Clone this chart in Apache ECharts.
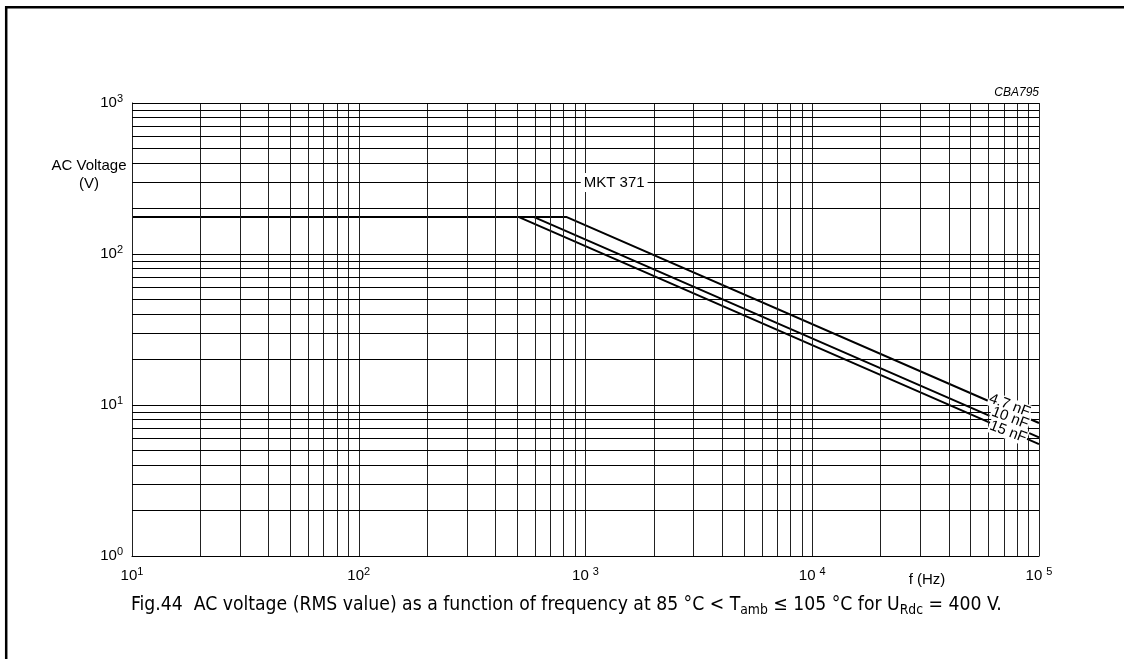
<!DOCTYPE html>
<html><head><meta charset="utf-8">
<script src="https://cdn.jsdelivr.net/npm/echarts@6/dist/echarts.min.js"></script>
<style>html,body{margin:0;padding:0;background:#fff}#c{width:1124px;height:659px}</style>
</head><body><div id="c"></div>
<script>
// ---- data ----
const seriesNames = ['4.7 nF', '10 nF', '15 nF'];
const freq_4_7nF = [10, 822, 100000];
const volt_4_7nF = [176, 176, 7.6];
const freq_10nF = [10, 590, 100000];
const volt_10nF = [176, 176, 6.1];
const freq_15nF = [10, 506, 100000];
const volt_15nF = [176, 176, 5.5];
const xDecades = [10, 100, 1000, 10000];
const yDecades = [1, 10, 100];
const gridMultipliers = [1, 2, 3, 4, 5, 6, 7, 8, 9];
const xMax = 100000, yMax = 1000;
const chartTag = 'MKT 371';
const drawingCode = 'CBA795';
const yAxisTitle = 'AC Voltage\n(V)';
const xAxisTitle = 'f (Hz)';
const captionParts = ['Fig.44  AC voltage (RMS value) as a function of frequency at 85 °C < T', 'amb', ' ≤ 105 °C for U', 'Rdc', ' = 400 V.'];

const FONT = '"Liberation Sans", Arial, sans-serif';
const CAPTION_FONT = '"Liberation Sans Narrow", "DejaVu Sans Condensed", "Liberation Sans", sans-serif';
const zip = (a, b) => a.map((v, i) => [v, b[i]]);

const vLines = [];
xDecades.forEach(d => gridMultipliers.forEach(m => vLines.push(d * m)));
vLines.push(xMax);
const hLines = [];
yDecades.forEach(d => gridMultipliers.forEach(m => hLines.push(d * m)));
hLines.push(yMax);

function expLabel(v, spaced) {
  const e = Math.round(Math.log10(v));
  return '{b|10}{' + (spaced && e >= 3 ? 's2' : 's') + '|' + e + '}';
}
const labelRich = {
  b: { fontSize: 15, lineHeight: 20, fontFamily: FONT, color: '#000' },
  s: { fontSize: 11, lineHeight: 10, verticalAlign: 'top', fontFamily: FONT, color: '#000' },
  s2: { fontSize: 11, lineHeight: 10, verticalAlign: 'top', fontFamily: FONT, color: '#000', padding: [0, 0, 0, 4] }
};

const chart = echarts.init(document.getElementById('c'));
const curveStyle = { color: '#000', width: 2 };
const option = {
  animation: false,
  backgroundColor: '#fff',
  grid: { left: 132, top: 103, width: 907, height: 453 },
  xAxis: {
    type: 'log', logBase: 10, min: 10, max: xMax, splitNumber: 4,
    axisLine: { show: true, lineStyle: { color: '#000', width: 1 } },
    axisTick: { show: false }, splitLine: { show: false },
    axisLabel: { margin: 10, formatter: v => expLabel(v, true), rich: labelRich }
  },
  yAxis: {
    type: 'log', logBase: 10, min: 1, max: yMax, splitNumber: 3,
    axisLine: { show: true, lineStyle: { color: '#000', width: 1 } },
    axisTick: { show: false }, splitLine: { show: false },
    axisLabel: { margin: 9, formatter: v => expLabel(v, false), rich: labelRich }
  },
  series: [
    {
      type: 'line', data: [], z: 1, silent: true,
      markLine: {
        silent: true, symbol: 'none', animation: false,
        label: { show: false },
        lineStyle: { color: '#000', width: 1, type: 'solid' },
        data: vLines.map(v => ({ xAxis: v, lineStyle: { color: '#222' } })).concat(hLines.map(v => ({ yAxis: v })))
      }
    },
    { name: seriesNames[0], type: 'line', data: zip(freq_4_7nF, volt_4_7nF), symbol: 'none', lineStyle: curveStyle, z: 3 },
    { name: seriesNames[1], type: 'line', data: zip(freq_10nF, volt_10nF), symbol: 'none', lineStyle: curveStyle, z: 3 },
    { name: seriesNames[2], type: 'line', data: zip(freq_15nF, volt_15nF), symbol: 'none', lineStyle: curveStyle, z: 3 }
  ]
};
chart.setOption(option);

const px = (f, v) => chart.convertToPixel({ gridIndex: 0 }, [f, v]);
const curveLabelAt = [[74200, 9.92], [74580, 8.2], [73090, 6.63]];
const graphics = [];
// frame
graphics.push({ type: 'line', shape: { x1: 5, y1: 7.2, x2: 1124, y2: 7.2 }, style: { stroke: '#000', lineWidth: 2.5 }, z: 50 });
graphics.push({ type: 'line', shape: { x1: 6.2, y1: 6, x2: 6.2, y2: 659 }, style: { stroke: '#000', lineWidth: 2.5 }, z: 50 });
// curve labels
curveLabelAt.forEach((p, i) => {
  const q = px(p[0], p[1]);
  graphics.push({
    type: 'text', x: q[0], y: q[1], rotation: -0.36, z: 60,
    style: { text: seriesNames[i], fontSize: 15, fontFamily: FONT, fill: '#000',
      backgroundColor: '#fff', padding: [0, 1], align: 'center', verticalAlign: 'middle' }
  });
});
// tag
const t = px(1338, 297);
graphics.push({ type: 'text', x: t[0], y: t[1], z: 60,
  style: { text: chartTag, fontSize: 15, fontFamily: FONT, fill: '#000', backgroundColor: '#fff',
    padding: [2, 3], align: 'center', verticalAlign: 'middle' } });
// drawing code
const topRight = px(xMax, yMax);
graphics.push({ type: 'text', x: topRight[0], y: topRight[1] - 10, z: 60,
  style: { text: drawingCode, fontSize: 12, fontStyle: 'italic', fontFamily: FONT, fill: '#000',
    align: 'right', verticalAlign: 'middle' } });
// axis titles
graphics.push({ type: 'text', x: 89, y: 157, z: 60,
  style: { text: yAxisTitle, fontSize: 15, lineHeight: 18, fontFamily: FONT, fill: '#000',
    align: 'center', verticalAlign: 'top' } });
graphics.push({ type: 'text', x: 927, y: 580, z: 60,
  style: { text: xAxisTitle, fontSize: 15, fontFamily: FONT, fill: '#000', align: 'center', verticalAlign: 'middle' } });
// caption: size chosen so the line spans the same width as in the reference
const ctx = document.createElement('canvas').getContext('2d');
function w(size, s) { ctx.font = size + 'px ' + CAPTION_FONT; return ctx.measureText(s).width; }
const captionTargetWidth = 870;
const subRatio = 0.72;
const unitW = w(100, captionParts[0] + captionParts[2] + captionParts[4]) + subRatio * w(100, captionParts[1] + captionParts[3]);
const capSize = Math.round(100 * captionTargetWidth / unitW * 10) / 10;
const subSize = Math.round(capSize * subRatio * 10) / 10;
graphics.push({ type: 'text', x: 131, y: 605, z: 60,
  style: {
    text: '{n|' + captionParts[0] + '}{sub|' + captionParts[1] + '}{n|' + captionParts[2] + '}{sub|' + captionParts[3] + '}{n|' + captionParts[4] + '}',
    align: 'left', verticalAlign: 'middle',
    rich: {
      n: { fontSize: capSize, lineHeight: Math.round(capSize * 1.3), fontFamily: CAPTION_FONT, fill: '#000' },
      sub: { fontSize: subSize, lineHeight: Math.round(capSize * 0.85), verticalAlign: 'bottom', fontFamily: CAPTION_FONT, fill: '#000' }
    }
  } });
chart.setOption({ graphic: graphics });
</script></body></html>
